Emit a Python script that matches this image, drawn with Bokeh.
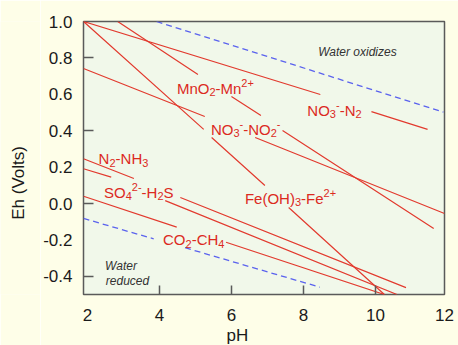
import math
from bokeh.plotting import figure
from bokeh.layouts import row
from bokeh.models import ColumnDataSource, FixedTicker, Range1d, PrintfTickFormatter, Title
from bokeh.embed import file_html
from bokeh.resources import INLINE
from bokeh.core.properties import value

nan = float("nan")

# ---- data (pH, Eh in volts); nan = gap for a label ----
water_ox_ph = [3.92, 11.89]
water_ox_eh = [1.0, 0.502]
water_red_ph = [1.89, 3.84, nan, 4.71, 8.46]
water_red_eh = [-0.082, -0.194, nan, -0.243, -0.460]

no3_n2_ph = [1.89, 8.47, nan, 9.89, 11.45]
no3_n2_eh = [1.0, 0.599, nan, 0.505, 0.407]
mno2_ph = [2.84, 5.07, nan, 6.0, 6.82, nan, 7.42, 11.62]
mno2_eh = [1.0, 0.709, nan, 0.588, 0.484, nan, 0.401, -0.137]
no3_no2_ph = [1.89, 5.26, nan, 6.66, 11.92]
no3_no2_eh = [0.742, 0.478, nan, 0.363, -0.055]
fe_ph = [1.89, 5.23, nan, 5.45, 6.93, nan, 7.59, 10.25]
fe_eh = [1.0, 0.407, nan, 0.363, 0.099, nan, -0.022, -0.50]
n2_nh3_ph = [1.89, 3.29, nan, 4.58, 10.85]
n2_nh3_eh = [0.246, 0.137, nan, 0.033, -0.462]
so4_ph = [1.89, 2.66, nan, 4.16, 10.60]
so4_eh = [0.191, 0.145, nan, 0.016, -0.50]
co2_ph = [1.89, 4.48, nan, 5.85, 10.25]
co2_eh = [0.040, -0.130, nan, -0.213, -0.50]

x_ticks = [2, 4, 6, 8, 10, 12]
x_tick_marks = [4, 6, 8, 10]
y_ticks = [-0.4, -0.2, 0.0, 0.2, 0.4, 0.6, 0.8, 1.0]
y_tick_marks = [-0.4, 0.0, 0.4, 0.8]

# label pieces: (text, kind) kind: n=normal, b=subscript, p=superscript
labels = [
    ([("MnO", "n"), ("2", "b"), ("-Mn", "n"), ("2+", "p")], (4.485, 0.632)),
    ([("NO", "n"), ("3", "b"), ("-", "p"), ("-N", "n"), ("2", "b")], (8.11, 0.511)),
    ([("NO", "n"), ("3", "b"), ("-", "p"), ("-NO", "n"), ("2", "b"), ("-", "p")], (5.43, 0.407)),
    ([("Fe(OH)", "n"), ("3", "b"), ("-Fe", "n"), ("2+", "p")], (6.375, 0.029)),
    ([("N", "n"), ("2", "b"), ("-NH", "n"), ("3", "b")], (2.31, 0.246)),
    ([("SO", "n"), ("4", "b"), ("2-", "p"), ("-H", "n"), ("2", "b"), ("S", "n")], (2.46, 0.062)),
    ([("CO", "n"), ("2", "b"), ("-CH", "n"), ("4", "b")], (4.10, -0.199)),
]
notes = [("Water oxidizes", (8.41, 0.830)), ("Water", (2.49, -0.341)), ("reduced", (2.51, -0.427))]
y_title = "Eh (Volts)"
x_title = "pH"

FONT = "Liberation Sans"
LINE_RED = "#e23a2e"
TEXT_RED = "#dc2a1e"
FRAME = "#5a5a5a"
CREAM = "#fefee8"
X_START, X_END = 1.89, 11.92
Y_START, Y_END = -0.5, 1.0

# narrow strip on the left carrying the vertical axis title
t = figure(width=40, height=345, x_range=Range1d(0, 40), y_range=Range1d(Y_START, Y_END),
           output_backend="svg", toolbar_location=None,
           min_border_left=0, min_border_right=0, min_border_top=21, min_border_bottom=51,
           background_fill_color=CREAM, border_fill_color=CREAM, outline_line_color=None)
t.axis.visible = False
t.grid.visible = False
t.text(x=[18], y=[0.113], text=[y_title], angle=math.pi / 2, text_align="center",
       text_baseline="middle", text_font=value(FONT), text_font_size="17px", text_color="#1a1a1a")

p = figure(width=418, height=345, x_range=Range1d(X_START, X_END), y_range=Range1d(Y_START, Y_END),
           output_backend="svg", toolbar_location=None,
           min_border_left=38, min_border_right=14, min_border_top=21, min_border_bottom=51,
           background_fill_color="#f1f8ea", border_fill_color=CREAM,
           outline_line_color=FRAME, outline_line_width=1.5)
p.grid.visible = False

for ax in (p.xaxis, p.yaxis):
    ax.axis_line_color = None
    ax.major_tick_line_color = None
    ax.minor_tick_line_color = FRAME
    ax.minor_tick_line_width = 1.5
    ax.minor_tick_out = 0
    ax.major_label_text_font = FONT
    ax.major_label_text_font_size = "17px"
    ax.major_label_text_color = "#1a1a1a"
# the last tick (12) sits at the right edge of the frame
p.xaxis.ticker = FixedTicker(ticks=[min(v, X_END) for v in x_ticks], minor_ticks=x_tick_marks)
p.yaxis.ticker = FixedTicker(ticks=y_ticks, minor_ticks=y_tick_marks)
p.xaxis.minor_tick_in = 9
p.yaxis.minor_tick_in = 10
p.xaxis.formatter = PrintfTickFormatter(format="%.0f")
p.yaxis.formatter = PrintfTickFormatter(format="%.1f")
p.xaxis.major_label_standoff = 8
p.yaxis.major_label_standoff = 5

# water limits
p.line(water_ox_ph, water_ox_eh, line_color="#5a62ee", line_width=1.3, line_dash="6 4")
p.line(water_red_ph, water_red_eh, line_color="#5a62ee", line_width=1.3, line_dash="6 4")

for xs, ys in [(no3_n2_ph, no3_n2_eh), (mno2_ph, mno2_eh), (no3_no2_ph, no3_no2_eh),
               (fe_ph, fe_eh), (n2_nh3_ph, n2_nh3_eh), (so4_ph, so4_eh), (co2_ph, co2_eh)]:
    p.line(xs, ys, line_color=LINE_RED, line_width=1.2)

# composed chemical labels
W = {'M': .833, 'n': .556, 'O': .778, '-': .333, 'N': .722, 'F': .611, 'e': .556, '(': .333,
     ')': .333, 'H': .722, 'S': .667, 'C': .722, '+': .584}
for d in "0123456789":
    W[d] = .556
cols = dict(x=[], y=[], text=[], xo=[], yo=[], size=[])
for pieces, (ax_, ay_) in labels:
    off = 0.0
    for txt, kind in pieces:
        fs = 15 if kind == "n" else 11
        cols["x"].append(ax_)
        cols["y"].append(ay_)
        cols["text"].append(txt)
        cols["xo"].append(off)
        cols["yo"].append(0 if kind == "n" else (4 if kind == "b" else -5))
        cols["size"].append("%dpx" % fs)
        off += sum(W.get(c, .556) for c in txt) * fs
src = ColumnDataSource(cols)
p.text(x="x", y="y", text="text", x_offset="xo", y_offset="yo", text_font_size="size",
       source=src, text_font=value(FONT), text_color=TEXT_RED, text_align="left",
       text_baseline="alphabetic")

for txt, (nx, ny) in notes:
    p.text(x=[nx], y=[ny], text=[txt], text_font=value(FONT), text_font_size="12px",
           text_font_style="italic", text_color="#333333", text_align="left",
           text_baseline="alphabetic")

# x axis title
p.add_layout(Title(text=x_title, align="left", offset=143, standoff=0, text_font=FONT,
                   text_font_size="17px", text_font_style="normal", text_color="#1a1a1a"), "below")

layout = row(t, p)
open("out.html", "w").write(file_html(layout, INLINE))
